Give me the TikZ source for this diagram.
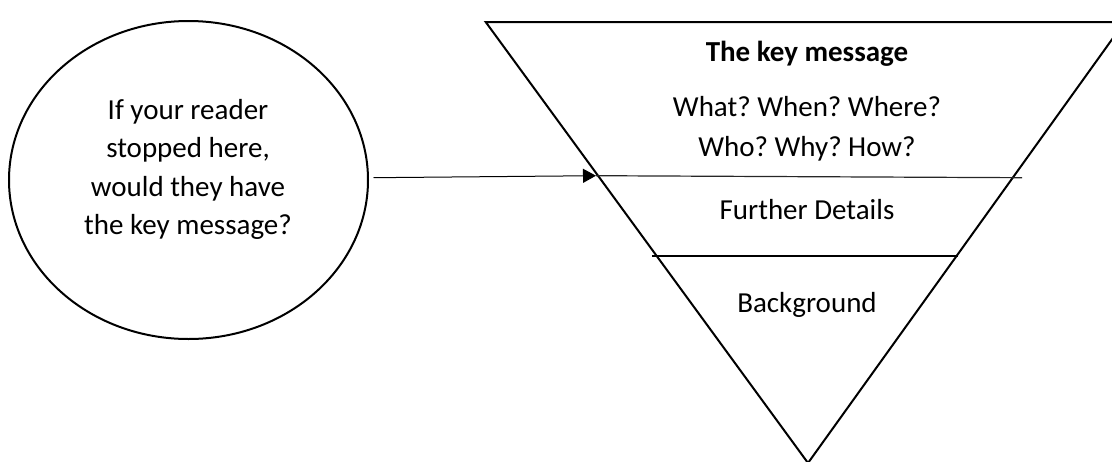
\documentclass[tikz,border=0pt]{standalone}
\usepackage{fontspec}
\setmainfont{Carlito}
\usetikzlibrary{shapes.geometric,arrows.meta}
\frenchspacing
\begin{document}
\begin{tikzpicture}[x=1pt,y=-1pt,
  txt/.style={anchor=base,inner sep=0pt,font=\fontsize{29}{38}\selectfont},
  outline/.style={draw=black,line width=2pt},
  divider/.style={draw=black,line width=1.2pt},
  connector/.style={draw=black,line width=1pt,-{Triangle[length=13pt,width=14pt]}}]
\useasboundingbox (0,0) rectangle (1112,461);
\clip (0,0) rectangle (1112,461);
% circle
\node[ellipse,outline,minimum width=359pt,minimum height=318pt,inner sep=0pt] (circ) at (188.5,180) {};
\node[txt] (c1) at (188,119.3) {If your reader};
\node[txt] (c2) at (188,157.5) {stopped here,};
\node[txt] (c3) at (188,196) {would they have};
\node[txt] (c4) at (188,234.3) {the key message?};
% inverted triangle
\coordinate (tl) at (485.7,22);
\coordinate (tr) at (1124.5,22);
\coordinate (ap) at (808,463);
\draw[outline,line join=miter] (tl) -- (tr) -- (ap) -- cycle;
% dividers
\coordinate (tip) at (596,175.7);
\coordinate (d1r) at (1022,177.7);
\coordinate (d2l) at (652,256);
\coordinate (d2r) at (958,256);
\draw[divider,draw=black!85] (tip) -- (d1r);
\draw[divider] (d2l) -- (d2r);
% arrow
\draw[connector] ([xshift=4.5pt,yshift=2.3pt]circ.east) -- (tip);
% texts in triangle
\node[txt,font=\fontsize{29}{38}\selectfont\bfseries] (t1) at (807,61.7) {The key message};
\node[txt] (t2) at (807,116.7) {What? When? Where?};
\node[txt] (t3) at (807,156) {Who? Why? How?};
\node[txt] (t4) at (807,219) {Further Details};
\node[txt] (t5) at (807,312.7) {Background};
\end{tikzpicture}
\end{document}
